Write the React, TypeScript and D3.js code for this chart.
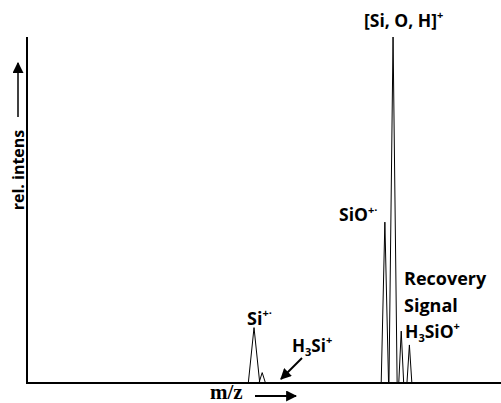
import React from "react";
import * as d3 from "d3";

// peak positions (m/z), relative intensities, half base widths (m/z units)
const peakMz = [28, 29, 44, 45, 46, 47];
const peakIntensity = [16, 3, 46.5, 100, 15, 11];
const peakHalfWidth = [0.7, 0.4, 0.45, 0.5, 0.3, 0.3];

const W = 501;
const H = 403;

export default function App() {
  const x = d3.scaleLinear().domain([0.24, 58.2]).range([27, 501]);
  const y = d3.scaleLinear().domain([0, 100]).range([383, 37]);
  const line = d3
    .line<[number, number]>()
    .x((d) => x(d[0]))
    .y((d) => y(d[1]));

  const font = "'Open Sans', 'DejaVu Sans', sans-serif";
  const txt = { fontFamily: font, fontWeight: 700, fill: "#000" } as const;

  return (
    <svg
      width={W}
      height={H}
      style={{ position: "absolute", left: 0, top: 0, background: "#fff" }}
    >
      <defs>
        <marker
          id="ah2"
          viewBox="0 0 10 10"
          refX="9"
          refY="5"
          markerWidth="11"
          markerHeight="11"
          orient="auto"
          markerUnits="userSpaceOnUse"
        >
          <path d="M0,0 L10,5 L0,10 z" fill="#000" />
        </marker>
      </defs>

      {/* peaks */}
      {peakMz.map((m, i) => (
        <path
          key={i}
          d={
            line([
              [m - peakHalfWidth[i], 0],
              [m, peakIntensity[i]],
              [m + peakHalfWidth[i], 0],
            ]) || ""
          }
          fill="none"
          stroke="#000"
          strokeWidth={1}
        />
      ))}

      {/* axes */}
      <line x1={27} y1={37} x2={27} y2={384} stroke="#000" strokeWidth={2} />
      <line x1={26} y1={383} x2={501} y2={383} stroke="#000" strokeWidth={2} />

      {/* y label */}
      <g transform="translate(24,170) rotate(-90)">
        <text x={0} y={0} textAnchor="middle" fontSize={16} style={txt}>
          rel. intens
        </text>
      </g>
      <line
        x1={18}
        y1={117}
        x2={18}
        y2={63}
        stroke="#000"
        strokeWidth={1.5}
        markerEnd="url(#ah2)"
      />

      {/* x label */}
      <text
        x={210}
        y={399}
        fontSize={21}
        fontFamily="'Liberation Serif', 'DejaVu Serif', serif"
        fontWeight={700}
      >
        m/z
      </text>
      <line
        x1={255}
        y1={396}
        x2={296}
        y2={396}
        stroke="#000"
        strokeWidth={2}
        markerEnd="url(#ah2)"
      />

      {/* peak labels */}
      <text x={247} y={325} fontSize={18} style={txt}>
        Si
        <tspan dy={-8} fontSize={11}>+·</tspan>
      </text>
      <text x={292} y={352} fontSize={17} style={txt}>
        H<tspan dy={4} fontSize={11}>3</tspan>
        <tspan dy={-4}>Si</tspan>
        <tspan dy={-8} fontSize={11}>+</tspan>
      </text>
      <line
        x1={302}
        y1={358}
        x2={281}
        y2={379}
        stroke="#000"
        strokeWidth={2}
        markerEnd="url(#ah2)"
      />
      <text x={364} y={27} fontSize={17.5} style={txt}>
        [Si, O, H]
        <tspan dy={-8} fontSize={11}>+</tspan>
      </text>
      <text x={339} y={221} fontSize={17.5} style={txt}>
        SiO
        <tspan dy={-7} fontSize={11}>+·</tspan>
      </text>
      <text x={404} y={285} fontSize={18} style={txt}>
        Recovery
      </text>
      <text x={404} y={312} fontSize={18} style={txt}>
        Signal
      </text>
      <text x={405} y={338} fontSize={17.5} style={txt}>
        H<tspan dy={4} fontSize={11}>3</tspan>
        <tspan dy={-4}>SiO</tspan>
        <tspan dy={-8} fontSize={11}>+</tspan>
      </text>
    </svg>
  );
}
